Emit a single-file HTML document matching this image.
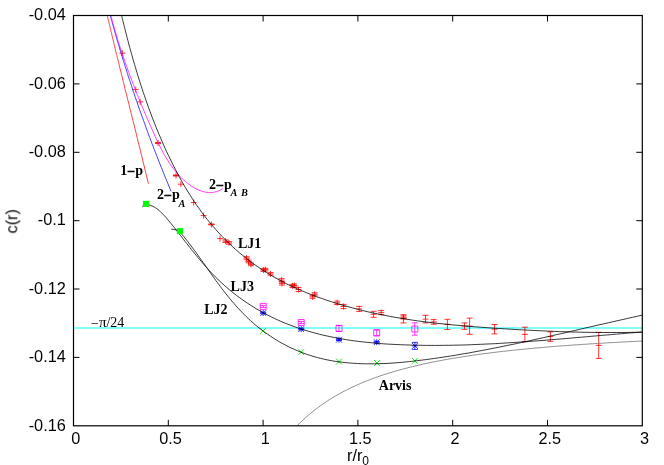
<!DOCTYPE html>
<html><head><meta charset="utf-8"><title>chart</title>
<style>
html,body{margin:0;padding:0;background:#fff;}
body{width:664px;height:465px;overflow:hidden;position:relative;font-family:"Liberation Sans",sans-serif;}
</style></head><body>
<svg width="664" height="465" viewBox="0 0 664 465" style="position:absolute;left:0;top:0">
<defs><clipPath id="cp"><rect x="73.5" y="15.5" width="568.8" height="410.3"/></clipPath></defs>
<line x1="74" x2="642" y1="328" y2="328" stroke="#80ffff" stroke-width="2"/>
<path d="M119.4,53.2h6M122.4,50.2v6.0M132.7,89.6h6M135.7,86.6v6.0M137.2,101.9h6M140.2,98.9v6.0M155.0,143.0h6M158.0,140.0v6.0M155.0,142.4h6M155.0,143.6h6M173.0,175.5h6M176.0,172.5v6.0M173.0,175.0h6M173.0,176.0h6M177.9,184.2h6M180.9,181.2v6.0M190.7,202.6h6M193.7,199.6v6.0M200.6,215.6h6M203.6,212.6v6.0M208.4,224.4h6M211.4,221.4v6.0M208.4,224.0h6M208.4,224.8h6M217.0,238.6h6M220.0,235.6v6.0M222.6,241.2h6M225.6,238.2v6.0M222.6,239.9h6M222.6,242.5h6M226.0,242.9h6M229.0,239.9v6.0M226.0,241.6h6M226.0,244.2h6M243.6,258.0h6M246.6,255.0v6.0M243.6,256.7h6M243.6,259.3h6M245.5,261.5h6M248.5,258.5v6.0M245.5,260.2h6M245.5,262.8h6M248.0,264.4h6M251.0,261.4v6.0M248.0,263.1h6M248.0,265.7h6M260.5,270.1h6M263.5,267.1v6.0M260.5,268.8h6M260.5,271.4h6M262.3,269.6h6M265.3,266.6v6.0M262.3,268.3h6M262.3,270.9h6M267.5,273.9h6M270.5,270.9v6.0M267.5,272.6h6M267.5,275.2h6M278.6,280.1h6M281.6,277.1v6.0M278.6,278.6h6M278.6,281.6h6M279.0,283.5h6M282.0,280.5v6.0M279.0,282.0h6M279.0,285.0h6M289.5,285.9h6M292.5,282.9v6.0M289.5,284.4h6M289.5,287.4h6M291.3,285.5h6M294.3,282.5v6.0M291.3,284.0h6M291.3,287.0h6M295.5,289.5h6M298.5,286.5v6.0M295.5,287.5h6M295.5,291.5h6M309.5,296.8h6M312.5,293.8v6.0M309.5,295.3h6M309.5,298.3h6M311.7,294.3h6M314.7,291.3v6.0M311.7,292.8h6M311.7,295.8h6M334.2,302.8h6M337.2,299.8v6.0M334.2,301.1h6M334.2,304.5h6M340.5,306.5h6M343.5,303.5v6.0M340.5,304.4h6M340.5,308.6h6M356.2,308.9h6M359.2,305.9v6.0M356.2,306.4h6M356.2,311.4h6M370.6,314.3h6M373.6,311.3v6.0M370.6,311.3h6M370.6,317.3h6M378.2,312.6h6M381.2,309.6v6.0M378.2,310.6h6M378.2,314.6h6M400.4,318.8h6M403.4,314.7v8.2M400.4,314.7h6M400.4,322.9h6M400.6,317.3h6M403.6,314.3v6.0M400.6,315.9h6M400.6,318.7h6M422.5,319.1h6M425.5,315.3v7.6M422.5,315.3h6M422.5,322.9h6M430.7,321.9h6M433.7,318.9v6.0M430.7,319.6h6M430.7,324.2h6M444.4,324.4h6M447.4,319.3v10.2M444.4,319.3h6M444.4,329.5h6M461.5,326.1h6M464.5,322.9v6.4M461.5,322.9h6M461.5,329.3h6M466.6,326.2h6M469.6,318.1v16.2M466.6,318.1h6M466.6,334.3h6M491.5,329.2h6M494.5,324.5v9.4M491.5,324.5h6M491.5,333.9h6M521.9,334.4h6M524.9,327.2v14.4M521.9,327.2h6M521.9,341.6h6M547.4,336.6h6M550.4,331.9v9.4M547.4,331.9h6M547.4,341.3h6M595.7,345.4h6M598.7,332.4v26.0M595.7,332.4h6M595.7,358.4h6" stroke="#ff0000" stroke-width="0.8" fill="none"/>
<path d="M260.2,328.1l5.8,5.8M260.2,333.9l5.8,-5.8M298.3,349.2l5.8,5.8M298.3,355.0l5.8,-5.8M336.1,358.7l5.8,5.8M336.1,364.5l5.8,-5.8M374.0,360.0l5.8,5.8M374.0,365.8l5.8,-5.8M412.0,358.0l5.8,5.8M412.0,363.8l5.8,-5.8" stroke="#00f000" stroke-width="0.95" fill="none"/>
<path d="M260.3,310.1l5.8,5.8M260.3,315.9l5.8,-5.8M260.2,313.0h6M263.2,310.0v6.0M260.2,312.2h6M260.2,313.8h6M298.3,326.2l5.8,5.8M298.3,332.0l5.8,-5.8M298.2,329.1h6M301.2,326.1v6.0M298.2,328.3h6M298.2,329.9h6M336.1,336.8l5.8,5.8M336.1,342.6l5.8,-5.8M336.0,339.7h6M339.0,336.7v6.0M336.0,338.9h6M336.0,340.5h6M373.8,339.3l5.8,5.8M373.8,345.1l5.8,-5.8M373.7,342.2h6M376.7,339.2v6.0M373.7,341.4h6M373.7,343.0h6M412.0,343.0l5.8,5.8M412.0,348.8l5.8,-5.8M411.9,345.9h6M414.9,342.4v7.0M411.9,342.4h6M411.9,349.4h6" stroke="#0000ff" stroke-width="0.8" fill="none"/>
<path d="M260.2,303.4h6v6h-6zM260.2,305.4h6M260.2,307.4h6M263.2,305.4v2.0M298.2,319.5h6v6h-6zM298.2,321.5h6M298.2,323.5h6M301.2,321.5v2.0M336.0,325.4h6v6h-6zM336.0,325.4h6M336.0,331.4h6M339.0,325.4v6.0M373.7,329.8h6v6h-6zM373.7,329.8h6M373.7,335.8h6M376.7,329.8v6.0M411.8,326.0h6v6h-6zM411.8,322.8h6M411.8,335.2h6M414.8,322.8v12.4" stroke="#ff00ff" stroke-width="0.8" fill="none"/>
<g clip-path="url(#cp)" fill="none" stroke-width="0.78">
<path d="M107.3,15.5 L107.3,15.6 L107.4,15.7 L107.4,15.9 L107.5,16.2 L107.5,16.4 L107.6,16.7 L107.7,17.1 L107.7,17.4 L107.8,17.8 L107.9,18.2 L108.0,18.6 L108.1,19.0 L108.2,19.4 L108.3,19.9 L108.4,20.4 L108.6,20.9 L108.7,21.4 L108.8,21.9 L108.9,22.5 L109.1,23.0 L109.2,23.6 L109.3,24.2 L109.5,24.8 L109.6,25.4 L109.8,26.0 L109.9,26.6 L110.1,27.3 L110.2,28.0 L110.4,28.6 L110.5,29.3 L110.7,30.0 L110.9,30.7 L111.0,31.4 L111.2,32.2 L111.4,32.9 L111.6,33.7 L111.8,34.4 L111.9,35.2 L112.1,36.0 L112.3,36.8 L112.5,37.6 L112.7,38.4 L112.9,39.2 L113.1,40.0 L113.3,40.9 L113.5,41.7 L113.7,42.6 L113.9,43.4 L114.1,44.3 L114.3,45.2 L114.6,46.1 L114.8,47.0 L115.0,47.9 L115.2,48.8 L115.5,49.8 L115.7,50.7 L115.9,51.7 L116.1,52.6 L116.4,53.6 L116.6,54.5 L116.9,55.5 L117.1,56.5 L117.3,57.5 L117.6,58.5 L117.8,59.5 L118.1,60.5 L118.3,61.6 L118.6,62.6 L118.8,63.6 L119.1,64.7 L119.4,65.7 L119.6,66.8 L119.9,67.9 L120.1,69.0 L120.4,70.0 L120.7,71.1 L121.0,72.2 L121.2,73.3 L121.5,74.5 L121.8,75.6 L122.1,76.7 L122.3,77.8 L122.6,79.0 L122.9,80.1 L123.2,81.3 L123.5,82.5 L123.8,83.6 L124.1,84.8 L124.4,86.0 L124.6,87.2 L124.9,88.4 L125.2,89.6 L125.5,90.8 L125.8,92.0 L126.1,93.2 L126.5,94.4 L126.8,95.7 L127.1,96.9 L127.4,98.2 L127.7,99.4 L128.0,100.7 L128.3,101.9 L128.6,103.2 L129.0,104.5 L129.3,105.8 L129.6,107.1 L129.9,108.4 L130.2,109.7 L130.6,111.0 L130.9,112.3 L131.2,113.6 L131.6,114.9 L131.9,116.3 L132.2,117.6 L132.6,119.0 L132.9,120.3 L133.2,121.7 L133.6,123.0 L133.9,124.4 L134.3,125.8 L134.6,127.2 L134.9,128.5 L135.3,129.9 L135.6,131.3 L136.0,132.7 L136.3,134.1 L136.7,135.6 L137.0,137.0 L137.4,138.4 L137.7,139.8 L138.1,141.3 L138.4,142.7 L138.8,144.2 L139.2,145.6 L139.5,147.1 L139.9,148.5 L140.2,150.0 L140.6,151.5 L141.0,153.0 L141.3,154.5 L141.7,155.9 L142.1,157.4 L142.4,158.9 L142.8,160.5 L143.2,162.0 L143.5,163.5 L143.9,165.0 L144.3,166.5 L144.6,168.1 L145.0,169.6 L145.4,171.2 L145.8,172.7 L146.1,174.3 L146.5,175.8 L146.9,177.4 L147.3,179.0 L147.6,180.5 L148.0,182.1 L148.4,183.7" stroke="#ff0000"/>
<path d="M110.3,15.5 L110.3,15.6 L110.4,15.8 L110.4,16.0 L110.5,16.2 L110.6,16.5 L110.7,16.8 L110.8,17.2 L110.9,17.5 L111.0,17.9 L111.1,18.3 L111.2,18.8 L111.3,19.2 L111.4,19.7 L111.6,20.2 L111.7,20.7 L111.9,21.2 L112.0,21.8 L112.2,22.3 L112.3,22.9 L112.5,23.5 L112.7,24.1 L112.8,24.7 L113.0,25.4 L113.2,26.0 L113.4,26.7 L113.6,27.4 L113.8,28.1 L114.0,28.8 L114.2,29.5 L114.4,30.2 L114.6,31.0 L114.8,31.7 L115.0,32.5 L115.2,33.3 L115.5,34.0 L115.7,34.8 L115.9,35.6 L116.2,36.5 L116.4,37.3 L116.6,38.1 L116.9,39.0 L117.1,39.9 L117.4,40.7 L117.6,41.6 L117.9,42.5 L118.2,43.4 L118.4,44.3 L118.7,45.2 L119.0,46.2 L119.3,47.1 L119.6,48.1 L119.8,49.0 L120.1,50.0 L120.4,51.0 L120.7,51.9 L121.0,52.9 L121.3,53.9 L121.6,54.9 L121.9,56.0 L122.3,57.0 L122.6,58.0 L122.9,59.1 L123.2,60.1 L123.6,61.2 L123.9,62.3 L124.2,63.3 L124.6,64.4 L124.9,65.5 L125.2,66.6 L125.6,67.7 L126.0,68.8 L126.3,70.0 L126.7,71.1 L127.0,72.2 L127.4,73.4 L127.8,74.5 L128.1,75.7 L128.5,76.8 L128.9,78.0 L129.3,79.2 L129.7,80.4 L130.1,81.6 L130.5,82.8 L130.9,84.0 L131.3,85.2 L131.7,86.4 L132.1,87.7 L132.5,88.9 L132.9,90.1 L133.3,91.4 L133.7,92.6 L134.2,93.9 L134.6,95.2 L135.0,96.5 L135.5,97.7 L135.9,99.0 L136.4,100.3 L136.8,101.6 L137.3,102.9 L137.7,104.2 L138.2,105.6 L138.6,106.9 L139.1,108.2 L139.6,109.6 L140.0,110.9 L140.5,112.2 L141.0,113.6 L141.5,115.0 L142.0,116.3 L142.5,117.7 L143.0,119.1 L143.5,120.5 L144.0,121.9 L144.5,123.2 L145.0,124.6 L145.5,126.1 L146.0,127.5 L146.5,128.9 L147.1,130.3 L147.6,131.7 L148.1,133.2 L148.6,134.6 L149.2,136.1 L149.7,137.5 L150.3,139.0 L150.8,140.4 L151.4,141.9 L151.9,143.4 L152.5,144.8 L153.1,146.3 L153.6,147.8 L154.2,149.3 L154.8,150.8 L155.4,152.3 L156.0,153.8 L156.5,155.3 L157.1,156.8 L157.7,158.3 L158.3,159.9 L158.9,161.4 L159.5,162.9 L160.1,164.5 L160.8,166.0 L161.4,167.6 L162.0,169.1 L162.6,170.7 L163.3,172.3 L163.9,173.8 L164.5,175.4 L165.2,177.0 L165.8,178.6 L166.5,180.2 L167.1,181.7 L167.8,183.3 L168.4,184.9 L169.1,186.6 L169.8,188.2 L170.4,189.8 L171.1,191.4" stroke="#0000ff"/>
<path d="M110.9,15.5 L110.9,15.6 L111.0,15.8 L111.1,16.1 L111.1,16.4 L111.2,16.7 L111.3,17.1 L111.4,17.5 L111.5,17.9 L111.7,18.4 L111.8,18.9 L111.9,19.4 L112.1,20.0 L112.2,20.5 L112.4,21.1 L112.6,21.7 L112.7,22.4 L112.9,23.0 L113.1,23.7 L113.3,24.4 L113.5,25.1 L113.7,25.8 L113.9,26.6 L114.1,27.4 L114.3,28.1 L114.6,28.9 L114.8,29.7 L115.0,30.6 L115.3,31.4 L115.5,32.3 L115.8,33.1 L116.0,34.0 L116.3,34.9 L116.6,35.8 L116.9,36.8 L117.1,37.7 L117.4,38.7 L117.7,39.6 L118.0,40.6 L118.3,41.6 L118.7,42.6 L119.0,43.7 L119.3,44.7 L119.6,45.7 L120.0,46.8 L120.3,47.8 L120.7,48.9 L121.0,50.0 L121.4,51.1 L121.7,52.2 L122.1,53.4 L122.5,54.5 L122.9,55.6 L123.3,56.8 L123.7,58.0 L124.1,59.1 L124.5,60.3 L124.9,61.5 L125.3,62.7 L125.7,63.9 L126.2,65.2 L126.6,66.4 L127.1,67.6 L127.5,68.9 L128.0,70.2 L128.4,71.4 L128.9,72.7 L129.4,74.0 L129.9,75.3 L130.3,76.6 L130.8,77.9 L131.3,79.2 L131.8,80.6 L132.4,81.9 L132.9,83.3 L133.4,84.6 L133.9,86.0 L134.5,87.4 L135.0,88.8 L135.5,90.1 L136.1,91.5 L136.6,92.9 L137.2,94.4 L137.8,95.8 L138.4,97.2 L138.9,98.6 L139.5,100.1 L140.1,101.5 L140.7,103.0 L141.3,104.4 L141.9,105.9 L142.5,107.4 L143.2,108.9 L143.8,110.4 L144.4,111.8 L145.0,113.3 L145.7,114.9 L146.3,116.4 L147.0,117.9 L147.6,119.4 L148.3,120.9 L149.0,122.5 L149.6,124.0 L150.3,125.6 L151.0,127.1 L151.7,128.7 L152.4,130.2 L153.1,131.8 L153.8,133.4 L154.5,135.0 L155.2,136.6 L155.9,138.1 L156.7,139.7 L157.4,141.3 L158.2,142.9 L159.0,144.5 L159.8,146.1 L160.6,147.7 L161.4,149.3 L162.3,150.9 L163.1,152.6 L164.0,154.2 L164.9,155.8 L165.9,157.4 L166.9,159.0 L167.9,160.6 L168.9,162.2 L169.9,163.8 L171.0,165.4 L172.1,167.0 L173.3,168.5 L174.5,170.1 L175.7,171.6 L177.0,173.1 L178.2,174.5 L179.6,176.0 L180.9,177.4 L182.3,178.8 L183.8,180.1 L185.3,181.4 L186.8,182.7 L188.4,183.9 L190.0,185.1 L191.7,186.2 L193.4,187.3 L195.1,188.3 L196.9,189.2 L198.8,190.1 L200.7,190.8 L202.6,191.4 L204.5,191.9 L206.5,192.3 L208.5,192.5 L210.5,192.6 L212.5,192.5 L214.6,192.1 L216.6,191.6 L218.7,190.9 L220.8,189.9 L222.8,188.6" stroke="#ff00ff"/>
<path d="M121.6,15.5 L121.7,15.8 L121.8,16.4 L122.0,17.2 L122.2,18.2 L122.5,19.2 L122.8,20.4 L123.1,21.7 L123.4,23.0 L123.8,24.5 L124.2,26.0 L124.6,27.6 L125.0,29.3 L125.4,31.1 L125.9,32.9 L126.4,34.8 L126.9,36.8 L127.4,38.8 L128.0,40.9 L128.5,43.0 L129.1,45.2 L129.7,47.5 L130.4,49.8 L131.0,52.1 L131.7,54.5 L132.4,57.0 L133.1,59.5 L133.8,62.0 L134.6,64.6 L135.4,67.3 L136.2,70.0 L137.0,72.7 L137.8,75.4 L138.7,78.2 L139.6,81.1 L140.5,84.0 L141.5,86.9 L142.4,89.8 L143.4,92.8 L144.5,95.8 L145.5,98.9 L146.6,102.0 L147.7,105.1 L148.8,108.3 L150.0,111.5 L151.2,114.7 L152.4,117.9 L153.7,121.2 L155.0,124.5 L156.3,127.8 L157.7,131.2 L159.1,134.5 L160.6,137.9 L162.1,141.4 L163.6,144.8 L165.1,148.3 L166.7,151.8 L168.4,155.3 L170.1,158.8 L171.8,162.3 L173.6,165.9 L175.4,169.4 L177.3,173.0 L179.2,176.6 L181.2,180.2 L183.2,183.8 L185.3,187.4 L187.5,191.0 L189.7,194.5 L192.0,198.1 L194.3,201.7 L196.7,205.3 L199.3,208.8 L201.8,212.4 L204.5,215.9 L207.2,219.4 L210.0,222.8 L213.0,226.3 L215.9,229.7 L219.0,233.1 L222.1,236.4 L225.4,239.7 L228.7,243.0 L232.1,246.2 L235.5,249.4 L239.1,252.5 L242.8,255.5 L246.5,258.5 L250.3,261.4 L254.2,264.3 L258.2,267.1 L262.2,269.8 L266.4,272.4 L270.6,275.0 L274.9,277.5 L279.3,279.9 L283.7,282.3 L288.2,284.6 L292.8,286.8 L297.5,288.9 L302.2,290.9 L306.9,292.9 L311.8,294.8 L316.6,296.7 L321.6,298.4 L326.5,300.1 L331.6,301.8 L336.6,303.4 L341.7,304.9 L346.9,306.4 L352.1,307.8 L357.3,309.2 L362.6,310.5 L367.9,311.8 L373.3,313.0 L378.7,314.1 L384.1,315.2 L389.5,316.3 L395.0,317.3 L400.6,318.2 L406.1,319.1 L411.7,320.0 L417.3,320.8 L422.9,321.6 L428.6,322.3 L434.3,323.0 L440.0,323.6 L445.8,324.2 L451.6,324.8 L457.4,325.3 L463.2,325.8 L469.1,326.3 L474.9,326.8 L480.8,327.2 L486.8,327.7 L492.7,328.1 L498.7,328.5 L504.7,328.8 L510.7,329.2 L516.8,329.6 L522.9,329.9 L528.9,330.2 L535.1,330.5 L541.2,330.8 L547.4,331.1 L553.5,331.3 L559.7,331.6 L566.0,331.8 L572.2,332.0 L578.5,332.1 L584.8,332.3 L591.1,332.4 L597.4,332.4 L603.8,332.5 L610.1,332.5 L616.5,332.5 L622.9,332.5 L629.4,332.4 L635.8,332.3 L642.3,332.2" stroke="#000"/>
<path d="M142.0,206.5 L142.3,206.4 L142.8,206.1 L143.5,205.9 L144.3,205.6 L145.2,205.3 L146.1,205.2 L147.1,205.1 L148.2,205.1 L149.4,205.2 L150.5,205.4 L151.7,205.8 L152.9,206.3 L154.2,207.0 L155.5,207.8 L156.7,208.6 L158.0,209.6 L159.3,210.7 L160.6,211.9 L161.9,213.1 L163.2,214.4 L164.5,215.8 L165.8,217.2 L167.0,218.7 L168.3,220.2 L169.6,221.8 L170.9,223.4 L172.3,225.1 L173.6,226.8 L175.0,228.5 L176.4,230.3 L177.8,232.1 L179.2,233.9 L180.7,235.8 L182.1,237.6 L183.6,239.6 L185.1,241.5 L186.7,243.4 L188.2,245.4 L189.8,247.4 L191.4,249.5 L193.1,251.5 L194.7,253.6 L196.4,255.6 L198.1,257.7 L199.9,259.8 L201.7,261.9 L203.5,264.1 L205.4,266.2 L207.3,268.3 L209.2,270.4 L211.2,272.6 L213.2,274.7 L215.3,276.8 L217.5,278.9 L219.6,281.1 L221.9,283.1 L224.2,285.2 L226.5,287.3 L228.9,289.3 L231.4,291.4 L233.9,293.4 L236.5,295.4 L239.1,297.3 L241.8,299.3 L244.5,301.2 L247.3,303.1 L250.1,304.9 L253.0,306.7 L255.9,308.5 L258.9,310.3 L261.9,312.0 L265.0,313.7 L268.1,315.3 L271.2,316.9 L274.4,318.4 L277.6,319.9 L280.9,321.4 L284.2,322.8 L287.6,324.1 L291.0,325.4 L294.4,326.7 L297.9,327.9 L301.4,329.1 L305.0,330.2 L308.6,331.3 L312.2,332.3 L315.9,333.3 L319.6,334.3 L323.3,335.2 L327.1,336.0 L330.9,336.8 L334.8,337.6 L338.7,338.3 L342.6,339.0 L346.5,339.7 L350.5,340.3 L354.5,340.9 L358.6,341.4 L362.7,341.9 L366.8,342.3 L370.9,342.7 L375.0,343.1 L379.2,343.5 L383.4,343.8 L387.7,344.1 L391.9,344.3 L396.2,344.5 L400.5,344.7 L404.8,344.9 L409.1,345.0 L413.5,345.2 L417.9,345.2 L422.2,345.3 L426.6,345.4 L431.1,345.4 L435.5,345.4 L439.9,345.4 L444.4,345.3 L448.9,345.3 L453.4,345.2 L457.9,345.1 L462.4,345.0 L467.0,344.9 L471.5,344.7 L476.1,344.5 L480.7,344.3 L485.3,344.1 L490.0,343.9 L494.6,343.7 L499.3,343.4 L504.0,343.1 L508.6,342.8 L513.4,342.5 L518.1,342.2 L522.8,341.9 L527.6,341.6 L532.4,341.2 L537.2,340.9 L542.0,340.5 L546.9,340.1 L551.7,339.7 L556.6,339.3 L561.5,338.9 L566.4,338.5 L571.3,338.1 L576.3,337.6 L581.2,337.2 L586.2,336.8 L591.2,336.3 L596.2,335.9 L601.3,335.4 L606.4,335.0 L611.4,334.6 L616.5,334.1 L621.7,333.7 L626.8,333.2 L632.0,332.8 L637.2,332.4 L642.4,332.0" stroke="#000"/>
<path d="M171.1,229.2 L171.3,229.2 L171.8,229.3 L172.4,229.3 L173.2,229.4 L174.1,229.5 L175.0,229.7 L176.0,229.9 L177.1,230.3 L178.1,230.9 L179.1,231.5 L180.0,232.4 L181.0,233.3 L181.9,234.4 L182.8,235.5 L183.8,236.6 L184.8,237.9 L185.8,239.1 L186.8,240.4 L187.9,241.7 L188.9,243.1 L190.0,244.5 L191.2,246.0 L192.3,247.5 L193.4,249.0 L194.6,250.6 L195.8,252.2 L197.0,253.9 L198.2,255.6 L199.4,257.3 L200.7,259.0 L202.0,260.8 L203.3,262.6 L204.6,264.5 L205.9,266.4 L207.2,268.3 L208.6,270.2 L210.0,272.2 L211.4,274.2 L212.8,276.2 L214.3,278.2 L215.7,280.3 L217.2,282.3 L218.8,284.4 L220.3,286.5 L221.9,288.6 L223.5,290.7 L225.2,292.9 L226.9,295.0 L228.6,297.2 L230.4,299.3 L232.2,301.5 L234.1,303.6 L235.9,305.8 L237.9,308.0 L239.9,310.1 L241.9,312.2 L244.0,314.4 L246.1,316.5 L248.3,318.6 L250.6,320.7 L252.9,322.7 L255.2,324.8 L257.7,326.8 L260.2,328.8 L262.7,330.7 L265.3,332.6 L268.0,334.5 L270.7,336.4 L273.5,338.2 L276.3,339.9 L279.2,341.7 L282.1,343.3 L285.1,344.9 L288.2,346.5 L291.2,348.0 L294.4,349.4 L297.5,350.8 L300.8,352.1 L304.0,353.3 L307.3,354.5 L310.7,355.6 L314.0,356.6 L317.5,357.6 L320.9,358.4 L324.4,359.3 L328.0,360.0 L331.5,360.7 L335.1,361.3 L338.8,361.8 L342.5,362.3 L346.2,362.7 L349.9,363.0 L353.7,363.3 L357.5,363.5 L361.4,363.7 L365.2,363.8 L369.1,363.8 L373.0,363.8 L377.0,363.8 L381.0,363.6 L385.0,363.5 L389.0,363.3 L393.1,363.0 L397.1,362.7 L401.2,362.4 L405.3,362.0 L409.5,361.6 L413.6,361.1 L417.8,360.6 L421.9,360.1 L426.1,359.6 L430.3,359.0 L434.5,358.4 L438.7,357.8 L442.9,357.2 L447.2,356.5 L451.4,355.9 L455.7,355.2 L459.9,354.4 L464.2,353.7 L468.5,353.0 L472.8,352.2 L477.1,351.4 L481.4,350.6 L485.7,349.8 L490.1,348.9 L494.4,348.1 L498.8,347.2 L503.2,346.3 L507.5,345.4 L512.0,344.5 L516.4,343.6 L520.8,342.6 L525.3,341.7 L529.7,340.7 L534.2,339.7 L538.7,338.7 L543.2,337.7 L547.7,336.7 L552.3,335.6 L556.8,334.6 L561.4,333.6 L566.0,332.5 L570.6,331.4 L575.3,330.4 L579.9,329.3 L584.6,328.2 L589.3,327.1 L594.0,326.0 L598.7,324.9 L603.5,323.9 L608.3,322.8 L613.1,321.7 L617.9,320.6 L622.8,319.5 L627.7,318.4 L632.6,317.3 L637.5,316.2 L642.5,315.1" stroke="#000"/>
<path d="M295.3,427.7 L297.8,425.1 L300.3,422.6 L302.8,420.2 L305.3,417.9 L307.8,415.7 L310.3,413.6 L312.8,411.5 L315.3,409.6 L317.8,407.7 L320.3,405.8 L322.8,404.1 L325.3,402.4 L327.8,400.7 L330.3,399.1 L332.8,397.6 L335.3,396.1 L337.8,394.7 L340.3,393.3 L342.8,391.9 L345.3,390.6 L347.8,389.3 L350.2,388.1 L352.7,386.9 L355.2,385.8 L357.7,384.7 L360.2,383.6 L362.7,382.5 L365.2,381.5 L367.7,380.5 L370.2,379.5 L372.7,378.6 L375.2,377.7 L377.7,376.8 L380.2,375.9 L382.7,375.1 L385.2,374.3 L387.7,373.5 L390.2,372.7 L392.7,372.0 L395.2,371.2 L397.7,370.5 L400.2,369.8 L402.7,369.1 L405.2,368.5 L407.7,367.8 L410.2,367.2 L412.7,366.6 L415.1,366.0 L417.6,365.4 L420.1,364.8 L422.6,364.2 L425.1,363.7 L427.6,363.2 L430.1,362.6 L432.6,362.1 L435.1,361.6 L437.6,361.1 L440.1,360.7 L442.6,360.2 L445.1,359.7 L447.6,359.3 L450.1,358.8 L452.6,358.4 L455.1,358.0 L457.6,357.6 L460.1,357.2 L462.6,356.8 L465.1,356.4 L467.6,356.0 L470.1,355.7 L472.6,355.3 L475.1,354.9 L477.6,354.6 L480.0,354.2 L482.5,353.9 L485.0,353.6 L487.5,353.3 L490.0,352.9 L492.5,352.6 L495.0,352.3 L497.5,352.0 L500.0,351.7 L502.5,351.4 L505.0,351.2 L507.5,350.9 L510.0,350.6 L512.5,350.3 L515.0,350.1 L517.5,349.8 L520.0,349.6 L522.5,349.3 L525.0,349.1 L527.5,348.8 L530.0,348.6 L532.5,348.4 L535.0,348.1 L537.5,347.9 L540.0,347.7 L542.5,347.5 L544.9,347.2 L547.4,347.0 L549.9,346.8 L552.4,346.6 L554.9,346.4 L557.4,346.2 L559.9,346.0 L562.4,345.8 L564.9,345.7 L567.4,345.5 L569.9,345.3 L572.4,345.1 L574.9,344.9 L577.4,344.8 L579.9,344.6 L582.4,344.4 L584.9,344.3 L587.4,344.1 L589.9,343.9 L592.4,343.8 L594.9,343.6 L597.4,343.5 L599.9,343.3 L602.4,343.2 L604.9,343.0 L607.4,342.9 L609.8,342.7 L612.3,342.6 L614.8,342.5 L617.3,342.3 L619.8,342.2 L622.3,342.0 L624.8,341.9 L627.3,341.8 L629.8,341.7 L632.3,341.5 L634.8,341.4 L637.3,341.3 L639.8,341.2 L642.3,341.0" stroke="#707070"/>
</g>
<rect x="142.95" y="200.80" width="6.1" height="6.1" fill="#00ff00"/>
<rect x="176.95" y="228.05" width="6.1" height="6.1" fill="#00ff00"/>
<rect x="73.5" y="15.5" width="568.8" height="410.3" fill="none" stroke="#000" stroke-width="1.2"/>
<path d="M168.3,425.8v-6M168.3,15.5v6M263.1,425.8v-6M263.1,15.5v6M357.9,425.8v-6M357.9,15.5v6M452.7,425.8v-6M452.7,15.5v6M547.5,425.8v-6M547.5,15.5v6M73.5,83.9h6M642.3,83.9h-6M73.5,152.3h6M642.3,152.3h-6M73.5,220.7h6M642.3,220.7h-6M73.5,289.0h6M642.3,289.0h-6M73.5,357.4h6M642.3,357.4h-6" stroke="#000" stroke-width="1" fill="none"/>
<g font-family="Liberation Sans, sans-serif" font-size="16.3" fill="#000" opacity="0.995">
<text x="65.8" y="20.2" text-anchor="end">-0.04</text>
<text x="65.8" y="88.6" text-anchor="end">-0.06</text>
<text x="65.8" y="157.0" text-anchor="end">-0.08</text>
<text x="65.8" y="225.4" text-anchor="end">-0.1</text>
<text x="65.8" y="293.7" text-anchor="end">-0.12</text>
<text x="65.8" y="362.1" text-anchor="end">-0.14</text>
<text x="65.8" y="430.5" text-anchor="end">-0.16</text>
<text x="75.8" y="443.7" text-anchor="middle">0</text>
<text x="170.6" y="443.7" text-anchor="middle">0.5</text>
<text x="265.4" y="443.7" text-anchor="middle">1</text>
<text x="360.2" y="443.7" text-anchor="middle">1.5</text>
<text x="455.0" y="443.7" text-anchor="middle">2</text>
<text x="549.8" y="443.7" text-anchor="middle">2.5</text>
<text x="644.6" y="443.7" text-anchor="middle">3</text>
<text x="358" y="460.8" text-anchor="middle">r/r<tspan font-size="12" dy="4">0</tspan></text>
<text transform="translate(17.3,221.3) rotate(-90)" text-anchor="middle">c(r)</text>
</g>
<g font-family="Liberation Serif, serif" font-size="14" font-weight="bold" fill="#000" opacity="0.995">
<text x="120.3" y="174.6">1<tspan dy="1.3" stroke="#000" stroke-width="0.5">−</tspan><tspan dy="-1.3">p</tspan></text>
<text x="157" y="198.7">2<tspan dy="1.3" stroke="#000" stroke-width="0.5">−</tspan><tspan dy="-1.3">p</tspan><tspan font-size="10.3" font-style="italic" dy="7.8" dx="-1.2">A</tspan></text>
<text x="208.9" y="188.5">2<tspan dy="1.3" stroke="#000" stroke-width="0.5">−</tspan><tspan dy="-1.3">p</tspan><tspan font-size="10.3" font-style="italic" dy="7.8" dx="-1.2">A</tspan><tspan font-size="10.3" font-style="italic" dx="3.6">B</tspan></text>
<text x="237.9" y="248.4">LJ1</text>
<text x="230.6" y="291.1">LJ3</text>
<text x="204.2" y="313.7">LJ2</text>
<text x="378.8" y="389.5">Arvis</text>
</g>
<text x="91" y="326.7" font-family="Liberation Serif, serif" font-size="14" fill="#000" opacity="0.995"><tspan dy="1.5">−</tspan><tspan dy="-1.5" font-size="15">π</tspan>/24</text>
</svg>
</body></html>
